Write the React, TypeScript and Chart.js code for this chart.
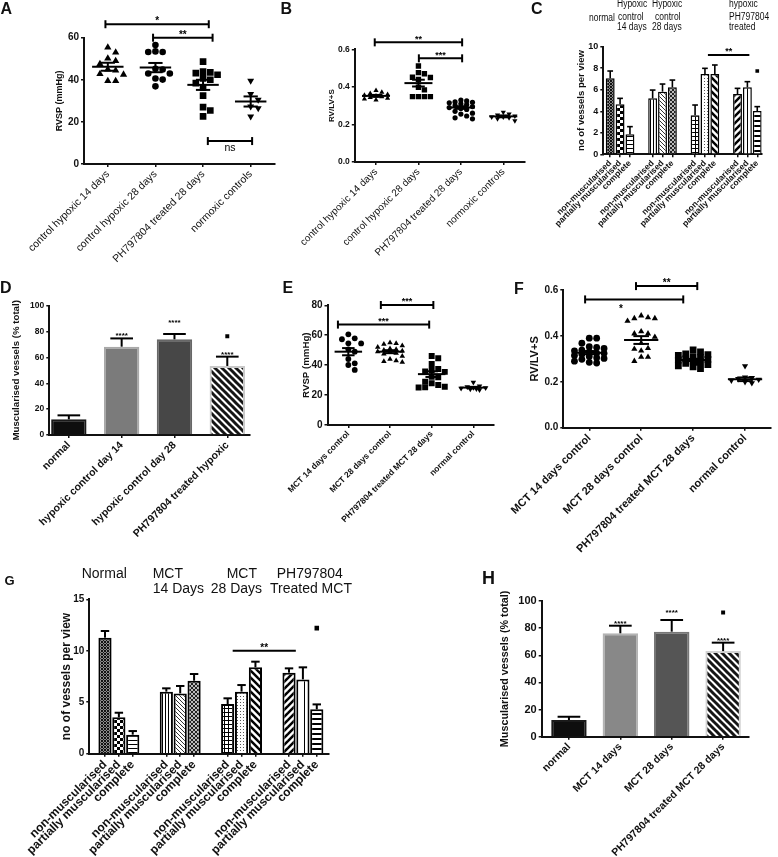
import React, { useEffect, useRef } from 'react';
import { Chart, registerables } from 'chart.js';

Chart.register(...registerables);

const FAMILY = '"Liberation Sans", Arial, Helvetica, sans-serif';

/* ---------------- A : RVSP, hypoxia ---------------- */
const aCategories = ['control hypoxic 14 days', 'control hypoxic 28 days', 'PH797804 treated 28 days', 'normoxic controls'];
const aHypoxic14 = [55.4, 53.0, 50.2, 49.0, 47.5, 45.0, 44.5, 42.8, 42.5, 39.5, 39.5];
const aHypoxic28 = [56.5, 53.5, 53.2, 53.2, 45.2, 44.9, 43.0, 43.0, 40.6, 40.1, 36.9];
const aTreated28 = [48.6, 43.9, 43.5, 43.2, 42.4, 40.7, 40.0, 38.4, 36.3, 32.5, 27.0, 25.4, 22.6];
const aNormoxic = [39.6, 33.2, 30.5, 27.3, 26.5, 22.6];
const aMeans = [46.2, 45.8, 37.6, 29.7];
const aSems = [1.9, 2.2, 2.4, 2.4];
const aBrackets = [
  { from: -0.05, to: 2.12, y: 66.4, label: '*' },
  { from: 0.95, to: 2.2, y: 60, label: '**' },
  { from: 2.1, to: 3.03, y: 10.9, label: 'ns', below: true },
];

/* ---------------- B : RV/LV+S, hypoxia ---------------- */
const bCategories = ['control hypoxic 14 days', 'control hypoxic 28 days', 'PH797804 treated 28 days', 'normoxic controls'];
const bHypoxic14 = [0.38, 0.372, 0.365, 0.36, 0.356, 0.352, 0.348, 0.344, 0.34, 0.335, 0.33];
const bHypoxic28 = [0.511, 0.476, 0.47, 0.451, 0.45, 0.44, 0.398, 0.384, 0.348, 0.348, 0.348, 0.348];
const bTreated28 = [0.33, 0.325, 0.32, 0.318, 0.315, 0.31, 0.305, 0.3, 0.295, 0.29, 0.285, 0.28, 0.27, 0.26, 0.255, 0.245, 0.235, 0.23];
const bNormoxic = [0.265, 0.255, 0.25, 0.245, 0.24, 0.24, 0.235, 0.23, 0.22];
const bMeans = [0.352, 0.42, 0.29, 0.243];
const bSems = [0.005, 0.018, 0.007, 0.005];
const bBrackets = [
  { from: -0.03, to: 2.03, y: 0.637, label: '**' },
  { from: 1.01, to: 2.03, y: 0.552, label: '***' },
];

/* ---------------- C : vessels per view, hypoxia ---------------- */
const cBarLabels = ['non-muscularised', 'partially muscularised', 'complete'];
const cNormal = [7.06, 4.64, 1.86];
const cNormalSem = [0.68, 0.56, 0.71];
const cHypoxic14 = [5.2, 5.82, 6.22];
const cHypoxic14Sem = [0.77, 0.71, 0.68];
const cHypoxic28 = [3.62, 7.46, 7.46];
const cHypoxic28Sem = [0.96, 0.53, 0.84];
const cTreated = [5.6, 6.22, 4.02];
const cTreatedSem = [0.53, 0.53, 0.41];
const cMarker = { group: 3, bar: 2, y: 7.74 };
const cBracket = { from: [2, 1.3], to: [3, 1.2], y: 9.23, label: '**' };

/* ---------------- D : muscularised %, hypoxia ---------------- */
const dCategories = ['normal', 'hypoxic control day 14', 'hypoxic control day 28', 'PH797804 treated hypoxic'];
const dValues = [12.1, 68.3, 74.0, 53.4];
const dSems = [3.1, 6.4, 4.1, 7.2];
const dStarLevels = [null, 78.6, 88.4, 63.7];
const dMarker = { bar: 3, y: 76.3 };

/* ---------------- E : RVSP, MCT ---------------- */
const eCategories = ['MCT 14 days control', 'MCT 28 days control', 'PH797804 treated MCT 28 days', 'normal control'];
const eMct14 = [60.6, 57.9, 57.3, 54.6, 54.5, 50.6, 49.0, 44.1, 41.2, 40.1, 36.8];
const eMct28 = [55, 54.5, 54, 53, 52, 51, 50.5, 50, 49.5, 49, 48.5, 48, 47.5, 46, 44, 43, 42.5, 42];
const eTreated = [46.1, 44.6, 40.8, 37.4, 36.8, 35.7, 35.5, 32.3, 31.9, 29.0, 27.9, 26.7, 25.6, 25.0, 25.2];
const eNormal = [28.5, 26, 25.5, 25, 24.8, 24.5, 24.2, 24, 23.5];
const eMeans = [49.0, 49.0, 34.0, 25.0];
const eSems = [2.4, 1.0, 1.9, 0.5];
const eBrackets = [
  { from: 0.78, to: 2.04, y: 80.2, label: '***' },
  { from: -0.25, to: 1.94, y: 67.1, label: '***' },
];

/* ---------------- F : RV/LV+S, MCT ---------------- */
const fCategories = ['MCT 14 days control', 'MCT 28 days control', 'PH797804 treated MCT 28 days', 'normal control'];
const fMct14 = [0.39, 0.39, 0.368, 0.353, 0.35, 0.345, 0.338, 0.335, 0.33, 0.325, 0.324, 0.32, 0.315, 0.31, 0.305, 0.302, 0.298, 0.29, 0.285, 0.282];
const fMct28 = [0.488, 0.48, 0.476, 0.476, 0.465, 0.419, 0.41, 0.41, 0.395, 0.368, 0.346, 0.343, 0.335, 0.308, 0.308, 0.29];
const fTreated = [0.339, 0.33, 0.322, 0.318, 0.315, 0.31, 0.305, 0.3, 0.298, 0.295, 0.29, 0.288, 0.285, 0.28, 0.275, 0.27, 0.265, 0.258];
const fNormal = [0.269, 0.22, 0.217, 0.213, 0.21, 0.206, 0.2, 0.195];
const fMeans = [0.327, 0.382, 0.295, 0.211];
const fSems = [0.007, 0.017, 0.005, 0.008];
const fBrackets = [
  { from: 0.9, to: 2.08, y: 0.617, label: '**' },
  { from: -0.08, to: 1.81, y: 0.559, label: '*', below: true, labelAt: 0.61 },
];

/* ---------------- G : vessels per view, MCT ---------------- */
const gBarLabels = ['non-muscularised', 'partially muscularised', 'complete'];
const gNormal = [11.27, 3.53, 1.85];
const gNormalSem = [0.65, 0.45, 0.35];
const gMct14 = [6.03, 5.86, 7.09];
const gMct14Sem = [0.32, 0.72, 0.65];
const gMct28 = [4.83, 6.03, 8.39];
const gMct28Sem = [0.55, 0.64, 0.55];
const gTreated = [7.87, 7.22, 4.31];
const gTreatedSem = [0.42, 1.17, 0.48];
const gMarker = { group: 3, bar: 2, y: 12.2 };
const gBracket = { from: [2, 0.36], to: [3, 0.49], y: 10.0, label: '**' };

/* ---------------- H : muscularised %, MCT ---------------- */
const hCategories = ['normal', 'MCT 14 days', 'MCT 28 days', 'PH797804 treated MCT 28 days'];
const hValues = [12.3, 76.2, 77.4, 63.1];
const hSems = [2.4, 5.6, 8.6, 6.2];
const hStarLevels = [null, 84.8, 93.4, 72.5];
const hMarker = { bar: 3, y: 91.6 };

/* ---------------- layout (page pixels) ---------------- */
type Box = { left: number; top: number; width: number; height: number };
type Area = { L: number; T: number; R: number; B: number };

const BOXES: Box[] = [
  { left: 0, top: 0, width: 282, height: 282 },
  { left: 278, top: 0, width: 252, height: 282 },
  { left: 515, top: 0, width: 263, height: 282 },
  { left: 0, top: 272, width: 262, height: 300 },
  { left: 262, top: 280, width: 238, height: 292 },
  { left: 495, top: 268, width: 283, height: 302 },
  { left: 0, top: 588, width: 400, height: 269 },
  { left: 470, top: 590, width: 308, height: 267 },
];
const AREAS: Area[] = [
  { L: 84, T: 37.7, R: 274.5, B: 164 },
  { L: 354.8, T: 49.3, R: 524.5, B: 162 },
  { L: 603.3, T: 46.7, R: 761.7, B: 154.3 },
  { L: 49.3, T: 305.7, R: 250, B: 435 },
  { L: 327.5, T: 305.3, R: 494.2, B: 425 },
  { L: 563.3, T: 290, R: 771, B: 427.7 },
  { L: 89.3, T: 599.3, R: 328.3, B: 753.7 },
  { L: 541.7, T: 601, R: 748.3, B: 736.7 },
];

/* ---------------- helpers ---------------- */
// deterministic beeswarm: spread points of similar value sideways, within +-0.36 of a category
function swarm(values: number[], center: number, pxPerVal: number, pxPerCat: number, size: number) {
  const placed: { x: number; y: number }[] = [];
  const order = values.map((_, i) => i).sort((a, b) => values[b] - values[a]);
  const out: { x: number; y: number }[] = [];
  const maxOff = 0.36 * pxPerCat;
  const step = size * 0.5;
  const coll = size * 0.85;
  for (const i of order) {
    const py = values[i] * pxPerVal;
    const cands: number[] = [0];
    for (let k = 1; k * step <= maxOff; k++) {
      cands.push(k * step, -k * step);
    }
    let best = 0;
    let bestScore = -1;
    let found = false;
    for (const cand of cands) {
      let minD = Infinity;
      for (const p of placed) {
        const d = Math.max(Math.abs(p.x - cand), Math.abs(p.y - py));
        if (d < minD) minD = d;
      }
      if (minD >= coll) {
        best = cand;
        found = true;
        break;
      }
      if (minD > bestScore) {
        bestScore = minD;
        best = cand;
      }
    }
    if (!found && bestScore < 0) best = 0;
    placed.push({ x: best, y: py });
    out.push({ x: center + best / pxPerCat, y: values[i] });
  }
  return out;
}

function slashes(g: CanvasRenderingContext2D, s: number, w: number, color: string, back: boolean) {
  g.save();
  if (back) {
    g.translate(s, 0);
    g.scale(-1, 1);
  }
  g.strokeStyle = color;
  g.lineWidth = w;
  for (const c of [0, s, 2 * s]) {
    g.beginPath();
    g.moveTo(c + 1, -1);
    g.lineTo(c - s - 1, s + 1);
    g.stroke();
  }
  g.restore();
}

function makePattern(kind: string): any {
  const sizes: Record<string, number> = {
    mesh: 3, checker: 6, hlines: 4, hbold: 5, vlines: 3, vwide: 8, diagFine: 4, diagCross: 4,
    grid: 4, dots: 3, bslash: 7, fslash: 7, stripes: 7,
  };
  const s = sizes[kind] || 6;
  const c = document.createElement('canvas');
  c.width = s;
  c.height = s;
  const g = c.getContext('2d')!;
  g.fillStyle = '#fff';
  g.fillRect(0, 0, s, s);
  g.fillStyle = '#000';
  switch (kind) {
    case 'mesh':
      g.fillStyle = '#8a8a8a';
      g.fillRect(0, 0, s, s);
      g.fillStyle = '#111';
      g.fillRect(0, 0, 1, 1);
      g.fillRect(1, 1, 1, 1);
      g.fillRect(2, 2, 1, 1);
      g.fillRect(2, 0, 1, 1);
      g.fillRect(0, 2, 1, 1);
      break;
    case 'checker':
      g.fillRect(0, 0, 3, 3);
      g.fillRect(3, 3, 3, 3);
      break;
    case 'hlines':
      g.fillRect(0, 0, s, 1);
      break;
    case 'hbold':
      g.fillRect(0, 0, s, 2);
      break;
    case 'vlines':
      g.fillRect(0, 0, 1, s);
      break;
    case 'vwide':
      g.fillRect(0, 0, 1, s);
      break;
    case 'diagFine':
      slashes(g, s, 1, '#333', true);
      break;
    case 'diagCross':
      g.fillStyle = '#bbb';
      g.fillRect(0, 0, s, s);
      slashes(g, s, 1, '#222', true);
      slashes(g, s, 1, '#222', false);
      break;
    case 'grid':
      g.fillRect(0, 0, s, 1);
      g.fillRect(0, 0, 1, s);
      break;
    case 'dots':
      g.fillStyle = '#555';
      g.fillRect(0, 0, 1, 1);
      break;
    case 'bslash':
      slashes(g, s, 2.5, '#000', true);
      break;
    case 'fslash':
      slashes(g, s, 2.5, '#000', false);
      break;
    case 'stripes':
      slashes(g, s, 3, '#151515', true);
      break;
  }
  return g.createPattern(c, 'repeat');
}

function starText(ctx: CanvasRenderingContext2D, text: string, x: number, cy: number, size: number) {
  const isStar = /^\*+$/.test(text);
  ctx.font = `${isStar ? 'bold' : 'normal'} ${size}px ${FAMILY}`;
  ctx.textAlign = 'center';
  ctx.textBaseline = 'alphabetic';
  ctx.fillText(text, x, isStar ? cy + 0.6 * size : cy + 0.27 * size);
}

function annotatePlugin(o: any) {
  return {
    id: 'annotate',
    afterDatasetsDraw(chart: any) {
      const ctx: CanvasRenderingContext2D = chart.ctx;
      const xs = chart.scales.x;
      const ys = chart.scales.y;
      const seg = (x1: number, y1: number, x2: number, y2: number) => {
        ctx.beginPath();
        ctx.moveTo(x1, y1);
        ctx.lineTo(x2, y2);
        ctx.stroke();
      };
      ctx.save();
      ctx.strokeStyle = '#000';
      ctx.fillStyle = '#000';
      ctx.lineCap = 'butt';
      if (o.meanLines) {
        ctx.lineWidth = 2;
        o.meanLines.means.forEach((m: number, i: number) => {
          const x = xs.getPixelForValue(i);
          const w = xs.getPixelForValue(i + 0.33) - x;
          const c = xs.getPixelForValue(i + 0.15) - x;
          const sem = o.meanLines.sems[i];
          const ym = ys.getPixelForValue(m);
          const yt = ys.getPixelForValue(m + sem);
          const yb = ys.getPixelForValue(m - sem);
          seg(x - w, ym, x + w, ym);
          seg(x, yt, x, yb);
          seg(x - c, yt, x + c, yt);
          seg(x - c, yb, x + c, yb);
        });
      }
      if (o.barErrors) {
        const meta = chart.getDatasetMeta(0);
        ctx.lineWidth = o.barErrors.width;
        meta.data.forEach((el: any, i: number) => {
          const v = o.barErrors.values[i];
          const e = o.barErrors.sems[i];
          const y0 = ys.getPixelForValue(v);
          const y1 = ys.getPixelForValue(v + e);
          const half = el.width * 0.32;
          seg(el.x, y0, el.x, y1);
          seg(el.x - half, y1, el.x + half, y1);
        });
      }
      (o.brackets || []).forEach((b: any) => {
        const x1 = xs.getPixelForValue(b.from);
        const x2 = xs.getPixelForValue(b.to);
        const y = ys.getPixelForValue(b.y);
        ctx.lineWidth = 2;
        seg(x1, y, x2, y);
        if (b.caps !== false) {
          seg(x1, y - 4, x1, y + 4);
          seg(x2, y - 4, x2, y + 4);
        }
        const lx = b.labelAt !== undefined ? xs.getPixelForValue(b.labelAt) : (x1 + x2) / 2;
        starText(ctx, b.label, lx, b.below ? y + 7 : y - 6, b.label === 'ns' ? 10.5 : o.starSize);
      });
      (o.stars || []).forEach((s: any) => {
        if (s.y === null) return;
        starText(ctx, s.text, xs.getPixelForValue(s.x), ys.getPixelForValue(s.y), o.starSize);
      });
      ctx.restore();
    },
  };
}

function baseOptions(o: any) {
  const box: Box = o.box;
  const area: Area = o.area;
  const axisGrid = { drawOnChartArea: false, drawTicks: true, tickLength: 3, color: '#111', lineWidth: 1.5, offset: false };
  const axisBorder = { display: true, color: '#111', width: 2 };
  return {
    animation: false,
    responsive: false,
    maintainAspectRatio: false,
    devicePixelRatio: 1,
    events: [],
    layout: { padding: { left: 0, top: area.T - box.top, right: box.left + box.width - area.R, bottom: 0 } },
    plugins: { legend: { display: false }, tooltip: { enabled: false }, title: { display: false } },
    scales: {
      x: {
        type: 'linear',
        offset: false,
        min: o.xMin,
        max: o.xMax,
        afterBuildTicks: (sc: any) => {
          sc.ticks = o.xPositions.map((v: number) => ({ value: v }));
        },
        afterFit: (sc: any) => {
          sc.height = box.top + box.height - area.B;
        },
        ticks: {
          autoSkip: false,
          minRotation: 45,
          maxRotation: 45,
          padding: 1,
          color: '#111',
          font: { family: FAMILY, size: o.xFontSize, weight: o.xBold ? 'bold' : 'normal' },
          callback: (_v: number, i: number) => o.xLabels[i],
        },
        grid: axisGrid,
        border: axisBorder,
      },
      y: {
        type: 'linear',
        min: o.yMin,
        max: o.yMax,
        afterFit: (sc: any) => {
          sc.width = area.L - box.left;
        },
        ticks: {
          stepSize: o.yStep,
          padding: 2,
          color: '#111',
          font: { family: FAMILY, size: o.yTickSize, weight: 'bold' },
          callback: o.yFormat || ((v: number) => String(Math.round(v))),
        },
        grid: axisGrid,
        border: axisBorder,
        title: {
          display: true,
          text: o.yTitle,
          color: '#111',
          font: { family: FAMILY, size: o.yTitleSize, weight: 'bold' },
          padding: { top: o.yTitleX - box.left - o.yTitleSize * 0.6, bottom: 0 },
        },
      },
    },
  };
}

function scatterConfig(o: any) {
  const pxPerVal = (o.area.B - o.area.T) / (o.yMax - o.yMin);
  const pxPerCat = (o.area.R - o.area.L) / 4;
  const datasets = o.groups.map((vals: number[], gi: number) => {
    const st = o.styles[gi];
    const visual = st.style === 'circle' ? st.r * 2 : st.style === 'rect' ? st.r * 1.414 : st.r * 1.73;
    return {
      type: 'scatter',
      data: swarm(vals, gi, pxPerVal, pxPerCat, visual + 0.6),
      pointStyle: st.style,
      pointRadius: st.r,
      pointRotation: st.rot || 0,
      pointBackgroundColor: '#000',
      pointBorderColor: '#000',
      pointBorderWidth: 0,
      backgroundColor: '#000',
      borderColor: '#000',
      showLine: false,
    };
  });
  return {
    type: 'scatter',
    data: { datasets },
    options: baseOptions({ ...o, xMin: -0.5, xMax: 3.5, xPositions: [0, 1, 2, 3], xLabels: o.categories }),
    plugins: [annotatePlugin({ meanLines: { means: o.means, sems: o.sems }, brackets: o.brackets, starSize: o.starSize })],
  };
}

function groupedBarConfig(o: any) {
  const xPos = (g: number, b: number) => g * o.period + b;
  const positions: number[] = [];
  const labels: string[] = [];
  const values: number[] = [];
  const sems: number[] = [];
  const fills: any[] = [];
  o.groups.forEach((vals: number[], g: number) => {
    vals.forEach((v, b) => {
      positions.push(xPos(g, b));
      labels.push(o.barLabels[b]);
      values.push(v);
      sems.push(o.sems[g][b]);
      fills.push(makePattern(o.patterns[g][b]));
    });
  });
  const lastPos = positions[positions.length - 1];
  return {
    type: 'bar',
    data: {
      datasets: [
        {
          type: 'bar',
          data: positions.map((x, i) => ({ x, y: values[i] })),
          backgroundColor: fills,
          borderColor: '#000',
          borderWidth: o.borderWidth,
          borderSkipped: 'bottom',
          categoryPercentage: 1,
          barPercentage: o.barPct,
        },
        {
          type: 'scatter',
          data: [{ x: xPos(o.marker.group, o.marker.bar), y: o.marker.y }],
          pointStyle: 'rect',
          pointRadius: o.markerR,
          pointBackgroundColor: '#000',
          pointBorderWidth: 0,
          backgroundColor: '#000',
        },
      ],
    },
    options: baseOptions({ ...o, xMin: o.xMinPad, xMax: lastPos + o.xMaxPad, xPositions: positions, xLabels: labels }),
    plugins: [
      annotatePlugin({
        barErrors: { values, sems, width: o.errWidth },
        brackets: [
          {
            from: xPos(o.bracket.from[0], o.bracket.from[1]),
            to: xPos(o.bracket.to[0], o.bracket.to[1]),
            y: o.bracket.y,
            label: o.bracket.label,
            caps: false,
          },
        ],
        starSize: o.starSize,
      }),
    ],
  };
}

function percentBarConfig(o: any) {
  const positions = o.categories.map((_: string, i: number) => i);
  return {
    type: 'bar',
    data: {
      datasets: [
        {
          type: 'bar',
          data: positions.map((x: number) => ({ x, y: o.values[x] })),
          backgroundColor: o.fills,
          borderColor: o.borders,
          borderWidth: 2,
          borderSkipped: 'bottom',
          categoryPercentage: 1,
          barPercentage: o.barPct,
        },
        {
          type: 'scatter',
          data: [{ x: o.marker.bar, y: o.marker.y }],
          pointStyle: 'rect',
          pointRadius: o.markerR,
          pointBackgroundColor: '#000',
          pointBorderWidth: 0,
          backgroundColor: '#000',
        },
      ],
    },
    options: baseOptions({ ...o, xPositions: positions, xLabels: o.categories }),
    plugins: [
      annotatePlugin({
        barErrors: { values: o.values, sems: o.sems, width: 2 },
        stars: o.starLevels.map((y: number | null, i: number) => ({ x: i, y, text: '****' })),
        starSize: o.starSize,
      }),
    ],
  };
}

function buildConfigs() {
  const A = scatterConfig({
    box: BOXES[0], area: AREAS[0], categories: aCategories,
    groups: [aHypoxic14, aHypoxic28, aTreated28, aNormoxic], means: aMeans, sems: aSems, brackets: aBrackets,
    styles: [{ style: 'triangle', r: 4.2 }, { style: 'circle', r: 3.3 }, { style: 'rect', r: 4.7 }, { style: 'triangle', r: 4, rot: 180 }],
    yMin: 0, yMax: 60, yStep: 20, yTitle: 'RVSP (mmHg)', yTitleSize: 9, yTitleX: 60, yTickSize: 10,
    xFontSize: 10.5, xBold: false, starSize: 10,
  });
  const B = scatterConfig({
    box: BOXES[1], area: AREAS[1], categories: bCategories,
    groups: [bHypoxic14, bHypoxic28, bTreated28, bNormoxic], means: bMeans, sems: bSems, brackets: bBrackets,
    styles: [{ style: 'triangle', r: 3 }, { style: 'rect', r: 3.8 }, { style: 'circle', r: 2.6 }, { style: 'triangle', r: 3, rot: 180 }],
    yMin: 0, yMax: 0.6, yStep: 0.2, yTitle: 'RV/LV+S', yTitleSize: 8, yTitleX: 331.7, yTickSize: 8.5,
    yFormat: (v: number) => v.toFixed(1), xFontSize: 10, xBold: false, starSize: 9,
  });
  const C = groupedBarConfig({
    box: BOXES[2], area: AREAS[2], barLabels: cBarLabels, period: 4.3, xMinPad: -0.7, xMaxPad: 0.45,
    groups: [cNormal, cHypoxic14, cHypoxic28, cTreated], sems: [cNormalSem, cHypoxic14Sem, cHypoxic28Sem, cTreatedSem],
    patterns: [['mesh', 'checker', 'hlines'], ['vlines', 'diagFine', 'diagCross'], ['grid', 'dots', 'bslash'], ['fslash', 'vwide', 'hbold']],
    marker: cMarker, markerR: 2.6, bracket: cBracket, borderWidth: 1.5, barPct: 0.9, errWidth: 1.6,
    yMin: 0, yMax: 10, yStep: 2, yTitle: 'no of vessels per view', yTitleSize: 9.5, yTitleX: 581.7, yTickSize: 9,
    xFontSize: 8.5, xBold: true, starSize: 9,
  });
  const D = percentBarConfig({
    box: BOXES[3], area: AREAS[3], categories: dCategories, values: dValues, sems: dSems, starLevels: dStarLevels,
    marker: dMarker, markerR: 2.8, barPct: 0.67, xMin: -0.37, xMax: 3.43,
    fills: ['#0e0e0e', '#7b7b7b', '#474747', makePattern('stripes')],
    borders: ['#1a1a1a', '#a9a9a9', '#676767', '#c9c9c9'],
    yMin: 0, yMax: 100, yStep: 20, yTitle: 'Muscularised vessels (% total)', yTitleSize: 9.7, yTitleX: 16, yTickSize: 8.5,
    xFontSize: 10.5, xBold: true, starSize: 8,
  });
  const E = scatterConfig({
    box: BOXES[4], area: AREAS[4], categories: eCategories,
    groups: [eMct14, eMct28, eTreated, eNormal], means: eMeans, sems: eSems, brackets: eBrackets,
    styles: [{ style: 'circle', r: 2.9 }, { style: 'triangle', r: 3.2 }, { style: 'rect', r: 4.2 }, { style: 'triangle', r: 3.2, rot: 180 }],
    yMin: 0, yMax: 80, yStep: 20, yTitle: 'RVSP (mmHg)', yTitleSize: 9.7, yTitleX: 306.7, yTickSize: 10,
    xFontSize: 8.5, xBold: true, starSize: 9,
  });
  const F = scatterConfig({
    box: BOXES[5], area: AREAS[5], categories: fCategories,
    groups: [fMct14, fMct28, fTreated, fNormal], means: fMeans, sems: fSems, brackets: fBrackets,
    styles: [{ style: 'circle', r: 3.4 }, { style: 'triangle', r: 3.6 }, { style: 'rect', r: 4.8 }, { style: 'triangle', r: 3.6, rot: 180 }],
    yMin: 0, yMax: 0.6, yStep: 0.2, yTitle: 'RV/LV+S', yTitleSize: 11, yTitleX: 535, yTickSize: 10,
    yFormat: (v: number) => v.toFixed(1), xFontSize: 11, xBold: true, starSize: 10,
  });
  const G = groupedBarConfig({
    box: BOXES[6], area: AREAS[6], barLabels: gBarLabels, period: 4.42, xMinPad: -1.13, xMaxPad: 0.83,
    groups: [gNormal, gMct14, gMct28, gTreated], sems: [gNormalSem, gMct14Sem, gMct28Sem, gTreatedSem],
    patterns: [['mesh', 'checker', 'hlines'], ['vlines', 'diagFine', 'diagCross'], ['grid', 'dots', 'bslash'], ['fslash', 'vwide', 'hbold']],
    marker: gMarker, markerR: 3.2, bracket: gBracket, borderWidth: 2, barPct: 0.95, errWidth: 2,
    yMin: 0, yMax: 15, yStep: 5, yTitle: 'no of vessels per view', yTitleSize: 12, yTitleX: 66.7, yTickSize: 10,
    xFontSize: 12, xBold: true, starSize: 10,
  });
  const H = percentBarConfig({
    box: BOXES[7], area: AREAS[7], categories: hCategories, values: hValues, sems: hSems, starLevels: hStarLevels,
    marker: hMarker, markerR: 2.8, barPct: 0.69, xMin: -0.53, xMax: 3.49,
    fills: ['#0e0e0e', '#888888', '#555555', makePattern('stripes')],
    borders: ['#1a1a1a', '#b3b3b3', '#777777', '#d2d2d2'],
    yMin: 0, yMax: 100, yStep: 20, yTitle: 'Muscularised vessels (% total)', yTitleSize: 10.8, yTitleX: 505, yTickSize: 11,
    xFontSize: 10.5, xBold: true, starSize: 8,
  });
  return [A, B, C, D, E, F, G, H];
}

/* ---------------- HTML text (panel letters and group headers) ---------------- */
const panelLetters = [
  { t: 'A', x: 0.5, y: 1.2, s: 16 },
  { t: 'B', x: 280.5, y: 0.8, s: 16 },
  { t: 'C', x: 531, y: 1.2, s: 16 },
  { t: 'D', x: 0, y: 280, s: 16 },
  { t: 'E', x: 282.5, y: 280, s: 16 },
  { t: 'F', x: 514, y: 281, s: 16 },
  { t: 'G', x: 4.5, y: 574.3, s: 13 },
  { t: 'H', x: 482, y: 569.4, s: 18 },
];

const cHeader = [
  { t: 'Hypoxic', x: 616.7, y: -1.2 },
  { t: 'Hypoxic', x: 651.7, y: -1.2 },
  { t: 'hypoxic', x: 729.3, y: -1.2 },
  { t: 'normal', x: 588.5, y: 12.5 },
  { t: 'control', x: 617.8, y: 11.5 },
  { t: 'control', x: 655, y: 11.5 },
  { t: 'PH797804', x: 729.3, y: 11.5 },
  { t: '14 days', x: 617.3, y: 22.2 },
  { t: '28 days', x: 651.7, y: 22.2 },
  { t: 'treated', x: 729.3, y: 22.2 },
];

const gHeader = [
  { t: 'Normal', x: 81.7, y: 566.4 },
  { t: 'MCT', x: 152.7, y: 566.4 },
  { t: 'MCT', x: 226.7, y: 566.4 },
  { t: 'PH797804', x: 276.7, y: 566.4 },
  { t: '14 Days', x: 152.7, y: 581.4 },
  { t: '28 Days', x: 210.7, y: 581.4 },
  { t: 'Treated MCT', x: 270, y: 581.4 },
];

export default function App() {
  const refs = useRef<(HTMLCanvasElement | null)[]>([]);

  useEffect(() => {
    const configs = buildConfigs();
    const charts = configs.map((cfg, i) => new Chart(refs.current[i] as HTMLCanvasElement, cfg as any));
    return () => {
      charts.forEach((c) => c.destroy());
    };
  }, []);

  return (
    <div
      style={{
        position: 'absolute',
        left: 0,
        top: 0,
        width: 778,
        height: 857,
        background: '#fff',
        overflow: 'hidden',
        fontFamily: FAMILY,
        color: '#111',
      }}
    >
      {BOXES.map((b, i) => (
        <canvas
          key={i}
          ref={(el) => {
            refs.current[i] = el;
          }}
          width={b.width}
          height={b.height}
          style={{ position: 'absolute', left: b.left, top: b.top, width: b.width, height: b.height, display: 'block' }}
        />
      ))}
      {panelLetters.map((l) => (
        <div
          key={l.t}
          style={{ position: 'absolute', left: l.x, top: l.y, fontSize: l.s, lineHeight: 1, fontWeight: 'bold', whiteSpace: 'nowrap' }}
        >
          {l.t}
        </div>
      ))}
      {cHeader.map((h, i) => (
        <div
          key={'c' + i}
          style={{
            position: 'absolute',
            left: h.x,
            top: h.y,
            fontSize: 10,
            lineHeight: 1,
            whiteSpace: 'nowrap',
            transform: 'scaleX(0.85)',
            transformOrigin: 'left top',
          }}
        >
          {h.t}
        </div>
      ))}
      {gHeader.map((h, i) => (
        <div key={'g' + i} style={{ position: 'absolute', left: h.x, top: h.y, fontSize: 14, lineHeight: 1, whiteSpace: 'nowrap' }}>
          {h.t}
        </div>
      ))}
    </div>
  );
}
